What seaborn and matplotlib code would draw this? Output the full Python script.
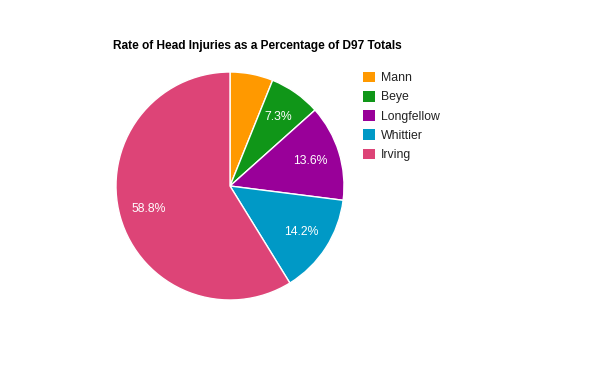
import matplotlib
matplotlib.use("Agg")
import matplotlib.pyplot as plt
import seaborn as sns
from matplotlib.patches import Patch

sns.set_theme(style="white")
plt.rcParams['font.family'] = ['Liberation Sans', 'DejaVu Sans']

schools = ["Mann", "Beye", "Longfellow", "Whittier", "Irving"]
percent = [6.1, 7.3, 13.6, 14.2, 58.8]
colors = sns.color_palette(["#ff9900", "#109618", "#990099", "#0099c6", "#dd4477"])
title = "Rate of Head Injuries as a Percentage of D97 Totals"

W, H = 600, 371
fig = plt.figure(figsize=(W / 100, H / 100), dpi=100)
fig.patch.set_facecolor("white")

cx, cy, r = 230, 186, 114
ax = fig.add_axes([(cx - r) / W, (H - cy - r) / H, 2 * r / W, 2 * r / H])

def fmt(p):
    return "" if p < 7 else f"{p:.1f}%"

wedges, texts, autotexts = ax.pie(
    percent, colors=colors, startangle=90, counterclock=False,
    autopct=fmt, pctdistance=0.74, radius=1,
    wedgeprops=dict(edgecolor="white", linewidth=1),
    textprops=dict(color="white", fontsize=8.8),
)
ax.set_xlim(-1.0, 1.0)
ax.set_ylim(-1.0, 1.0)
ax.set_aspect("equal")
ax.axis("off")

fig.text(113 / W, 1 - 45.5 / H, title, fontsize=8.55, fontweight="bold",
         color="black", ha="left", va="center")

handles = [Patch(facecolor=c, edgecolor="none") for c in colors]
leg = fig.legend(handles, schools, loc="upper left",
                 bbox_to_anchor=(363 / W, 1 - 71.5 / H), frameon=False,
                 fontsize=8.8, handlelength=1.0, handleheight=1.0,
                 handletextpad=0.5, labelspacing=0.54, borderaxespad=0,
                 borderpad=0)
for t in leg.get_texts():
    t.set_color("#222222")

fig.savefig("out.png", dpi=100, facecolor="white")
